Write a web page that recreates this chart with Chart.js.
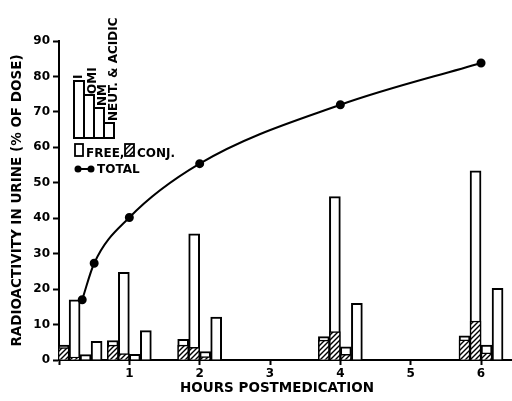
<!DOCTYPE html>
<html>
<head>
<meta charset="utf-8">
<script src="https://cdn.jsdelivr.net/npm/chart.js@4/dist/chart.umd.min.js"></script>
<style>
  html, body { margin: 0; padding: 0; background: #fff; }
</style>
</head>
<body>
<canvas id="chart" width="512" height="401"></canvas>
<script>
// bar groups (hours) and % of dose per metabolite, free / conjugated
const barHours = [0.3, 1, 2, 4, 6];
const iFree = [4.2, 5.5, 5.8, 6.6, 6.8];
const iConj = [3.5, 4.2, 4.2, 5.6, 5.7];
const omiFree = [17, 24.7, 35.6, 46.1, 53.4];
const omiConj = [0.8, 1.8, 3.6, 8.0, 11.0];
const nmFree = [1.5, 1.6, 2.4, 3.7, 4.2];
const nmConj = [0, 0, 1.0, 1.6, 2.0];
const neutFree = [5.3, 8.3, 12.1, 16.0, 20.2];
const neutConj = [null, null, null, null, null];

// cumulative total
const totalHours = [0.33, 0.5, 1, 2, 4, 6];
const totalValues = [17, 27.3, 40.2, 55.4, 72, 83.8];

const xTickLabels = ['1', '2', '3', '4', '5', '6'];

Chart.defaults.font.family = "'DejaVu Sans', sans-serif";
Chart.defaults.color = '#000';

function hatchPattern() {
  const c = document.createElement('canvas');
  c.width = 5; c.height = 5;
  const g = c.getContext('2d');
  g.fillStyle = '#fff';
  g.fillRect(0, 0, 5, 5);
  g.strokeStyle = '#000';
  g.lineWidth = 1.4;
  g.beginPath();
  g.moveTo(0, 5); g.lineTo(5, 0);
  g.moveTo(-1, 1); g.lineTo(1, -1);
  g.moveTo(4, 6); g.lineTo(6, 4);
  g.stroke();
  return g.createPattern(c, 'repeat');
}
const hatch = hatchPattern();

function pts(xs, ys) {
  return xs.map((x, i) => ({ x: x, y: ys[i] }));
}

const groups = [
  ['I', iFree, iConj],
  ['OMI', omiFree, omiConj],
  ['NM', nmFree, nmConj],
  ['NEUT', neutFree, neutConj]
];

const datasets = [];
groups.forEach(g => {
  datasets.push({
    label: g[0] + ' conj', stack: g[0], order: 1,
    data: pts(barHours, g[2]),
    backgroundColor: hatch, borderColor: '#000', borderWidth: 1.5,
    barThickness: 11
  });
});
groups.forEach(g => {
  datasets.push({
    label: g[0] + ' free', stack: g[0], order: 2,
    data: pts(barHours, g[1]),
    backgroundColor: '#fff', borderColor: '#000', borderWidth: 2,
    barThickness: 11
  });
});
datasets.push({
  type: 'line', label: 'TOTAL', order: 0,
  data: pts(totalHours, totalValues),
  borderColor: '#000', borderWidth: 2,
  pointRadius: 3.5, pointBackgroundColor: '#000', pointBorderColor: '#000',
  cubicInterpolationMode: 'monotone', fill: false
});

// inset key in the upper left plus the x title
const insetKey = {
  id: 'insetKey',
  afterDraw(chart) {
    const ctx = chart.ctx;
    ctx.save();
    ctx.strokeStyle = '#000';
    ctx.fillStyle = '#000';
    ctx.lineWidth = 2;
    ctx.font = "bold 12px 'DejaVu Sans', sans-serif";

    const base = 138;
    const keyBars = [[74, 81], [84, 95], [94, 108], [104, 123]];
    keyBars.forEach(b => ctx.strokeRect(b[0], b[1], 10, base - b[1]));

    const keyText = [['I', 78.5, 79], ['OMI', 93, 94], ['NM', 102.5, 106], ['NEUT. & ACIDIC', 114, 121]];
    ctx.textAlign = 'left';
    ctx.textBaseline = 'middle';
    keyText.forEach(t => {
      ctx.save();
      ctx.translate(t[1], t[2]);
      ctx.rotate(-Math.PI / 2);
      ctx.fillText(t[0], 0, 0);
      ctx.restore();
    });

    ctx.lineWidth = 1.8;
    ctx.fillStyle = '#fff';
    ctx.fillRect(75, 144, 8, 12);
    ctx.strokeRect(75, 144, 8, 12);
    ctx.fillStyle = hatch;
    ctx.fillRect(125, 144, 9, 12);
    ctx.strokeRect(125, 144, 9, 12);
    ctx.fillStyle = '#000';
    ctx.textBaseline = 'alphabetic';
    ctx.fillText('FREE,', 86, 157);
    ctx.fillText('CONJ.', 137, 157);

    ctx.lineWidth = 2;
    ctx.beginPath();
    ctx.moveTo(78, 169); ctx.lineTo(91, 169);
    ctx.stroke();
    [78, 91].forEach(x => {
      ctx.beginPath();
      ctx.arc(x, 169, 3.5, 0, Math.PI * 2);
      ctx.fill();
    });
    ctx.textBaseline = 'middle';
    ctx.fillText('TOTAL', 97, 170);

    ctx.font = "bold 13.5px 'DejaVu Sans', sans-serif";
    ctx.textAlign = 'center';
    ctx.fillText('HOURS POSTMEDICATION', 277, 388);
    ctx.restore();
  }
};

new Chart(document.getElementById('chart'), {
  type: 'bar',
  data: { datasets: datasets },
  options: {
    responsive: false,
    animation: false,
    layout: { autoPadding: false, padding: { top: 41, right: 0, left: 0, bottom: 0 } },
    plugins: { legend: { display: false }, tooltip: { enabled: false } },
    scales: {
      x: {
        type: 'linear', min: 0, max: 6.44, offset: false,
        grid: { drawOnChartArea: false, offset: false, tickLength: 5, tickWidth: 2, tickColor: '#000' },
        border: { color: '#000', width: 2 },
        ticks: {
          stepSize: 1, includeBounds: false, maxRotation: 0, padding: 2,
          font: { size: 12, weight: 'bold' },
          callback: v => (v >= 1 ? xTickLabels[v - 1] : '')
        },
        afterFit: s => { s.height = 41; s.paddingLeft = 0; s.paddingRight = 0; }
      },
      y: {
        min: 0, max: 90, stacked: false,
        grid: { drawOnChartArea: false, tickLength: 6, tickWidth: 2, tickColor: '#000' },
        border: { color: '#000', width: 2 },
        ticks: { stepSize: 10, padding: 3, font: { size: 12, weight: 'bold' } },
        title: {
          display: true, text: 'RADIOACTIVITY IN URINE (% OF DOSE)',
          font: { size: 13.5, weight: 'bold' }, padding: { top: 9, bottom: 0 }
        },
        afterFit: s => { s.width = 59; }
      }
    }
  },
  plugins: [insetKey]
});
</script>
</body>
</html>
